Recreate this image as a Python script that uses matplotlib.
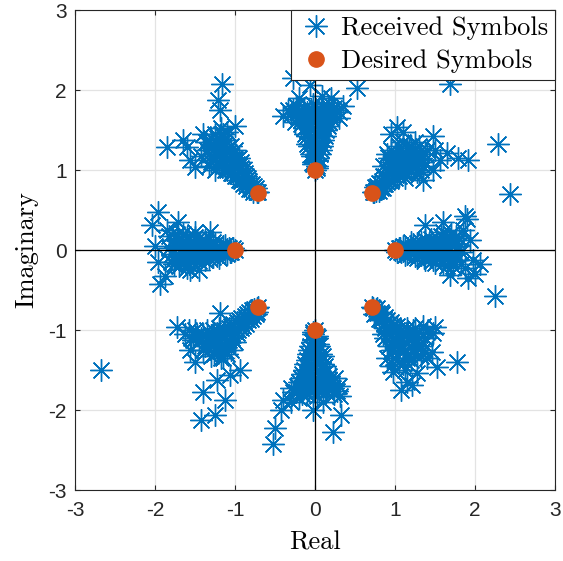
import numpy as np
import matplotlib
matplotlib.use('Agg')
import matplotlib.pyplot as plt
from matplotlib.lines import Line2D

# puntos recibidos, por grupo (x = real, y = imaginario)
east = [(1.0, 0.0), (1.05, 0.02), (1.08, -0.03), (1.12, 0.04), (1.15, -0.05), (1.18, 0.0),
        (1.22, 0.07), (1.25, -0.08), (1.28, 0.03), (1.3, -0.02), (1.33, 0.1), (1.36, -0.1),
        (1.4, 0.05), (1.42, -0.05), (1.45, 0.14), (1.47, -0.13), (1.5, 0.02), (1.53, 0.09),
        (1.55, -0.09), (1.58, 0.17), (1.6, -0.16), (1.62, 0.04), (1.65, 0.12), (1.67, -0.06),
        (1.7, 0.2), (1.72, -0.2), (1.75, 0.08), (1.78, -0.12), (1.8, 0.15), (1.83, -0.02),
        (1.85, 0.25), (1.88, -0.22),
        (1.37, 0.31), (1.6, 0.35), (1.9, 0.39), (1.88, 0.42), (1.94, 0.13), (1.98, -0.12),
        (2.06, -0.17), (1.91, -0.35), (1.69, -0.31), (2.25, -0.58), (2.44, 0.70), (2.0, -0.3)]
east_core = [(1.03, -0.02), (1.06, 0.03), (1.1, -0.01), (1.1, 0.05), (1.13, -0.06), (1.16, 0.03),
             (1.2, -0.04), (1.2, 0.1), (1.24, 0.0), (1.27, 0.09), (1.27, -0.1), (1.31, 0.06),
             (1.32, -0.06), (1.35, 0.0), (1.38, 0.12), (1.38, -0.13), (1.43, 0.09), (1.44, -0.09),
             (1.48, 0.06), (1.5, -0.16), (1.52, 0.15), (1.56, 0.0), (1.57, -0.05), (1.6, 0.1),
             (1.63, -0.1), (1.66, 0.02), (1.68, 0.16), (1.7, -0.14), (1.74, -0.02), (1.76, 0.18),
             (1.79, 0.05), (1.82, -0.17), (1.6, 0.22), (1.65, -0.2)]

north_east = [(0.72, 0.72), (0.76, 0.74), (0.78, 0.80), (0.82, 0.78), (0.84, 0.86), (0.88, 0.82),
              (0.88, 0.92), (0.92, 0.88), (0.93, 0.97), (0.97, 0.92), (0.98, 1.02), (1.02, 0.95),
              (1.0, 1.08), (1.05, 1.0), (1.07, 1.08), (1.1, 0.98), (1.05, 1.15), (1.12, 1.05),
              (1.15, 1.12), (1.18, 1.02), (1.1, 1.2), (1.2, 1.1), (1.22, 1.18), (1.25, 1.05),
              (1.15, 1.27), (1.28, 1.14), (1.3, 1.22), (1.32, 1.0), (1.2, 1.3), (1.35, 1.1),
              (1.38, 1.2), (1.25, 1.35), (0.95, 1.1), (1.12, 0.9), (1.3, 0.95), (1.0, 1.2),
              (0.9, 1.2), (0.85, 1.05),
              (1.02, 1.54), (0.95, 1.45), (1.1, 1.47), (1.48, 1.42), (1.56, 1.13), (1.65, 1.21),
              (1.79, 1.15), (1.91, 1.13), (2.29, 1.33), (1.48, 1.0), (1.35, 0.88), (1.5, 1.25),
              (1.69, 2.07)]
north_east_core = [(0.74, 0.72), (0.75, 0.79), (0.8, 0.74), (0.8, 0.84), (0.85, 0.78), (0.85, 0.92),
                   (0.9, 0.85), (0.9, 0.98), (0.95, 0.86), (0.95, 1.05), (1.0, 0.9), (1.0, 1.0),
                   (1.0, 1.14), (1.04, 1.08), (1.05, 0.93), (1.08, 1.2), (1.1, 1.1), (1.12, 0.96),
                   (1.15, 1.2), (1.15, 1.05), (1.18, 1.3), (1.2, 0.98), (1.22, 1.25), (1.25, 1.12),
                   (1.27, 0.98), (1.3, 1.3), (1.33, 1.15), (1.35, 1.05), (0.95, 1.25), (1.05, 1.3),
                   (1.4, 1.25), (1.1, 1.35), (0.92, 1.15)]

north = [(0.0, 1.0), (0.02, 1.05), (-0.03, 1.1), (0.04, 1.15), (-0.05, 1.2), (0.0, 1.25),
         (0.07, 1.25), (-0.08, 1.3), (0.03, 1.33), (-0.02, 1.38), (0.1, 1.38), (-0.1, 1.42),
         (0.05, 1.45), (-0.05, 1.5), (0.14, 1.5), (-0.14, 1.52), (0.02, 1.55), (0.1, 1.58),
         (-0.1, 1.6), (0.18, 1.6), (-0.18, 1.62), (0.04, 1.65), (0.13, 1.68), (-0.07, 1.7),
         (0.22, 1.7), (-0.22, 1.72), (0.08, 1.75), (-0.14, 1.78), (0.16, 1.8), (-0.02, 1.82),
         (0.28, 1.75), (-0.28, 1.75), (0.3, 1.65), (-0.25, 1.6),
         (-0.27, 2.15), (-0.06, 2.06), (0.52, 2.02), (0.09, 1.92), (-0.34, 1.75), (-0.2, 1.9),
         (0.2, 1.9), (0.35, 1.8), (-0.4, 1.68)]
north_core = [(0.02, 1.02), (-0.02, 1.07), (0.03, 1.12), (-0.04, 1.17), (0.06, 1.2), (-0.01, 1.28),
              (0.09, 1.3), (-0.1, 1.33), (0.0, 1.4), (0.12, 1.43), (-0.12, 1.45), (0.08, 1.5),
              (-0.08, 1.55), (0.16, 1.55), (-0.17, 1.57), (0.0, 1.6), (0.2, 1.65), (-0.2, 1.67),
              (0.06, 1.7), (-0.1, 1.73), (0.24, 1.78), (-0.24, 1.8), (0.1, 1.8), (-0.05, 1.76),
              (0.18, 1.72), (-0.3, 1.7), (0.3, 1.72), (0.0, 1.72), (0.12, 1.62), (-0.14, 1.65),
              (0.05, 1.35), (-0.06, 1.4)]

north_west = [(-0.71, 0.72), (-0.74, 0.77), (-0.8, 0.76), (-0.79, 0.83), (-0.86, 0.8), (-0.84, 0.9),
              (-0.92, 0.86), (-0.88, 0.96), (-0.97, 0.92), (-0.93, 1.02), (-1.02, 0.97), (-0.97, 1.08),
              (-1.06, 1.02), (-1.0, 1.14), (-1.1, 1.05), (-1.05, 1.2), (-1.14, 1.1), (-1.1, 1.26),
              (-1.18, 1.15), (-1.13, 1.32), (-1.22, 1.2), (-1.2, 1.38), (-1.26, 1.26), (-1.3, 1.1),
              (-1.25, 1.45), (-1.3, 1.32), (-1.33, 1.2), (-1.15, 1.45), (-1.2, 1.05), (-1.05, 1.3),
              (-0.95, 1.15), (-1.3, 1.4), (-1.1, 1.0), (-1.18, 1.52),
              (-1.16, 2.07), (-1.21, 1.87), (-1.19, 1.75), (-1.85, 1.29), (-1.6, 1.29), (-1.5, 1.04),
              (-1.42, 1.17), (-1.56, 1.12), (-1.65, 1.37), (-1.4, 1.45), (-1.0, 1.55)]
north_west_core = [(-0.73, 0.73), (-0.77, 0.72), (-0.76, 0.8), (-0.83, 0.76), (-0.82, 0.86), (-0.9, 0.82),
                   (-0.86, 0.93), (-0.95, 0.88), (-0.9, 1.0), (-1.0, 0.92), (-0.95, 1.05), (-1.05, 0.96),
                   (-1.02, 1.1), (-1.08, 1.12), (-1.12, 1.0), (-1.08, 1.22), (-1.15, 1.18), (-1.2, 1.1),
                   (-1.16, 1.3), (-1.24, 1.22), (-1.28, 1.15), (-1.22, 1.4), (-1.28, 1.3), (-1.35, 1.25),
                   (-1.32, 1.05), (-1.12, 1.38), (-1.25, 1.0), (-1.0, 1.25), (-1.18, 1.45), (-1.36, 1.35),
                   (-0.93, 1.1), (-1.1, 1.48)]

west = [(-1.0, 0.0), (-1.05, -0.02), (-1.08, 0.03), (-1.12, -0.04), (-1.15, 0.05), (-1.18, 0.0),
        (-1.22, -0.07), (-1.25, 0.08), (-1.28, -0.03), (-1.3, 0.02), (-1.33, -0.1), (-1.36, 0.1),
        (-1.4, -0.05), (-1.42, 0.05), (-1.45, -0.14), (-1.47, 0.13), (-1.5, -0.02), (-1.53, -0.09),
        (-1.55, 0.09), (-1.58, -0.17), (-1.6, 0.16), (-1.62, -0.04), (-1.65, -0.12), (-1.67, 0.06),
        (-1.7, -0.2), (-1.72, 0.2), (-1.75, -0.08), (-1.78, 0.12), (-1.8, -0.15), (-1.83, 0.02),
        (-1.5, 0.22), (-1.45, -0.25),
        (-1.96, 0.48), (-2.04, 0.31), (-1.71, 0.35), (-1.96, -0.15), (-1.94, -0.42), (-1.875, -0.33),
        (-1.31, 0.23), (-1.56, -0.25), (-1.85, 0.25), (-2.0, 0.05)]
west_core = [(-1.03, 0.02), (-1.06, -0.03), (-1.1, 0.01), (-1.1, -0.05), (-1.13, 0.06), (-1.16, -0.03),
             (-1.2, 0.04), (-1.2, -0.1), (-1.24, 0.0), (-1.27, -0.09), (-1.27, 0.1), (-1.31, -0.06),
             (-1.32, 0.06), (-1.35, 0.0), (-1.38, -0.12), (-1.38, 0.13), (-1.43, -0.09), (-1.44, 0.09),
             (-1.48, -0.06), (-1.5, 0.16), (-1.52, -0.15), (-1.56, 0.0), (-1.57, 0.05), (-1.6, -0.1),
             (-1.63, 0.1), (-1.66, -0.02), (-1.68, -0.16), (-1.7, 0.14), (-1.74, 0.02), (-1.76, -0.18),
             (-1.79, -0.05), (-1.82, 0.17), (-1.6, -0.22), (-1.65, 0.2)]

south_west = [(-0.71, -0.71), (-0.76, -0.74), (-0.74, -0.8), (-0.82, -0.78), (-0.8, -0.86), (-0.88, -0.82),
              (-0.86, -0.92), (-0.95, -0.88), (-0.92, -0.98), (-1.02, -0.92), (-0.98, -1.04), (-1.08, -0.97),
              (-1.04, -1.1), (-1.14, -1.0), (-1.1, -1.16), (-1.2, -1.04), (-1.16, -1.22), (-1.26, -1.08),
              (-1.22, -1.28), (-1.32, -1.12), (-1.05, -1.25), (-1.28, -1.0), (-1.4, -1.05), (-1.38, -1.2),
              (-1.15, -1.35), (-1.45, -1.15), (-1.3, -1.32), (-1.5, -1.0), (-1.55, -1.1), (-1.62, -1.05),
              (-1.25, -1.15), (-1.1, -1.3),
              (-1.73, -0.96), (-1.19, -0.79), (-0.94, -1.5), (-1.23, -1.62), (-1.4, -1.77), (-1.12, -1.87),
              (-1.42, -2.12), (-1.25, -2.06), (-1.06, -1.56), (-1.56, -1.25), (-1.5, -1.4), (-2.68, -1.5)]
south_west_core = [(-0.73, -0.73), (-0.72, -0.77), (-0.79, -0.75), (-0.78, -0.83), (-0.85, -0.8), (-0.84, -0.88),
                   (-0.92, -0.85), (-0.9, -0.95), (-0.98, -0.9), (-0.96, -1.0), (-1.05, -0.95), (-1.02, -1.06),
                   (-1.1, -1.02), (-1.08, -1.12), (-1.16, -1.06), (-1.14, -1.18), (-1.22, -1.12), (-1.2, -1.22),
                   (-1.3, -1.06), (-1.28, -1.2), (-1.35, -1.12), (-1.42, -1.1), (-1.12, -1.25), (-1.35, -1.0),
                   (-1.48, -1.06), (-1.2, -0.98), (-1.0, -1.15), (-1.26, -1.3), (-1.4, -1.25), (-1.52, -1.12),
                   (-1.18, -1.35), (-1.58, -1.0)]

south = [(0.0, -1.0), (-0.02, -1.05), (0.03, -1.1), (-0.04, -1.15), (0.05, -1.2), (0.0, -1.25),
         (-0.07, -1.25), (0.08, -1.3), (-0.03, -1.33), (0.02, -1.38), (-0.1, -1.38), (0.1, -1.42),
         (-0.05, -1.45), (0.05, -1.5), (-0.14, -1.5), (0.14, -1.52), (-0.02, -1.55), (-0.1, -1.58),
         (0.1, -1.6), (-0.18, -1.6), (0.18, -1.62), (-0.04, -1.65), (-0.13, -1.68), (0.07, -1.7),
         (-0.22, -1.7), (0.22, -1.72), (-0.08, -1.75), (0.14, -1.78), (-0.16, -1.8), (0.02, -1.82),
         (-0.28, -1.78), (0.28, -1.76), (0.25, -1.6), (-0.2, -1.85),
         (-0.4, -1.87), (-0.42, -2.0), (-0.5, -2.22), (-0.52, -2.43), (0.33, -2.06), (0.23, -2.27),
         (-0.02, -2.0), (0.31, -1.83), (0.1, -1.9), (-0.3, -1.9)]
south_core = [(-0.02, -1.02), (0.02, -1.07), (-0.03, -1.12), (0.04, -1.17), (-0.06, -1.2), (0.01, -1.28),
              (-0.09, -1.3), (0.1, -1.33), (0.0, -1.4), (-0.12, -1.43), (0.12, -1.45), (-0.08, -1.5),
              (0.08, -1.55), (-0.16, -1.55), (0.17, -1.57), (0.0, -1.6), (-0.2, -1.65), (0.2, -1.67),
              (-0.06, -1.7), (0.1, -1.73), (-0.24, -1.78), (0.24, -1.8), (-0.1, -1.8), (0.05, -1.76),
              (-0.18, -1.72), (0.3, -1.7), (-0.3, -1.72), (0.0, -1.72), (-0.12, -1.62), (0.14, -1.65),
              (-0.05, -1.35), (0.06, -1.4)]

south_east = [(0.71, -0.71), (0.76, -0.74), (0.74, -0.8), (0.82, -0.78), (0.8, -0.86), (0.88, -0.84),
              (0.86, -0.93), (0.95, -0.9), (0.9, -1.0), (1.02, -0.95), (0.95, -1.08), (1.08, -1.0),
              (1.0, -1.15), (1.14, -1.05), (1.05, -1.22), (1.2, -1.1), (1.1, -1.28), (1.26, -1.15),
              (1.15, -1.35), (1.32, -1.2), (1.3, -1.02), (0.92, -1.2), (1.0, -1.35), (1.38, -1.1),
              (1.25, -1.3), (0.95, -1.45), (1.1, -1.42), (1.22, -1.0), (1.08, -1.1), (0.88, -1.1),
              (1.35, -0.95),
              (1.5, -0.96), (1.48, -1.04), (1.46, -1.27), (1.52, -1.46), (1.77, -1.4), (1.27, -1.54),
              (1.21, -1.69), (1.08, -1.75), (1.15, -1.65), (1.4, -1.35)]
south_east_core = [(0.73, -0.73), (0.78, -0.72), (0.77, -0.79), (0.84, -0.8), (0.82, -0.88), (0.9, -0.88),
                   (0.88, -0.97), (0.97, -0.94), (0.93, -1.04), (1.03, -1.0), (0.98, -1.12), (1.1, -1.05),
                   (1.04, -1.18), (1.16, -1.1), (1.1, -1.22), (1.22, -1.18), (1.16, -1.3), (1.28, -1.22),
                   (1.2, -1.38), (1.3, -1.1), (1.25, -0.97), (0.96, -1.25), (1.05, -1.4), (1.35, -1.25),
                   (0.9, -1.35), (1.12, -1.5), (0.98, -1.52), (1.4, -1.02), (1.15, -0.98), (0.85, -1.05),
                   (1.32, -1.33)]

# simbolos deseados (8-PSK)
desired_re = [1.0, 0.707, 0.0, -0.707, -1.0, -0.707, 0.0, 0.707]
desired_im = [0.0, 0.707, 1.0, 0.707, 0.0, -0.707, -1.0, -0.707]

ticks = [-3, -2, -1, 0, 1, 2, 3]

azul = '#0072BD'
naranja = '#D95319'

received = np.array(east + east_core + north_east + north_east_core + north + north_core
                    + north_west + north_west_core + west + west_core + south_west + south_west_core
                    + south + south_core + south_east + south_east_core)

plt.rcParams['axes.unicode_minus'] = False
plt.rcParams['font.family'] = 'Liberation Sans'

fig = plt.figure(figsize=(5.63, 5.61), dpi=100)
ax = fig.add_axes([75 / 563, 71 / 561, 480 / 563, 480 / 561])

estrella = (8, 2, 0)
ax.plot(received[:, 0], received[:, 1], linestyle='none', marker=estrella, markersize=16,
        markeredgewidth=1.0, color=azul, zorder=2)
ax.axhline(0, color='black', lw=0.9, zorder=3)
ax.axvline(0, color='black', lw=0.9, zorder=3)
ax.plot(desired_re, desired_im, linestyle='none', marker='o', markersize=11,
        markerfacecolor=naranja, markeredgecolor=naranja, zorder=4)

ax.set_xlim(-3, 3)
ax.set_ylim(-3, 3)
ax.set_xticks(ticks)
ax.set_yticks(ticks)
ax.grid(True, color='#E3E3E3', linewidth=0.9, zorder=0)
ax.set_axisbelow(True)
ax.tick_params(direction='in', length=3.5, width=0.8, top=True, right=True,
               labelsize=15, color='#262626', labelcolor='#262626')
ax.tick_params(axis='x', pad=8)
ax.tick_params(axis='y', pad=6)
for s in ax.spines.values():
    s.set_color('#262626')
    s.set_linewidth(0.8)

ax.set_xlabel('Real', fontfamily='cmr10', fontsize=19, labelpad=8)
ax.set_ylabel('Imaginary', fontfamily='cmr10', fontsize=19, labelpad=7)

# leyenda
h1 = Line2D([], [], linestyle='none', marker=estrella, markersize=16, markeredgewidth=1.0, color=azul)
h2 = Line2D([], [], linestyle='none', marker='o', markersize=11, markerfacecolor=naranja,
            markeredgecolor=naranja)
leg = ax.legend([h1, h2], ['Received Symbols', 'Desired Symbols'], loc='upper right',
                borderaxespad=0, fancybox=False, framealpha=1, edgecolor='#262626',
                prop={'family': 'cmr10', 'size': 19}, handlelength=1.4, handletextpad=0.25,
                borderpad=0.25, labelspacing=0.35)
leg.get_frame().set_linewidth(0.8)
leg.set_zorder(10)

fig.savefig('out.png', dpi=100)
